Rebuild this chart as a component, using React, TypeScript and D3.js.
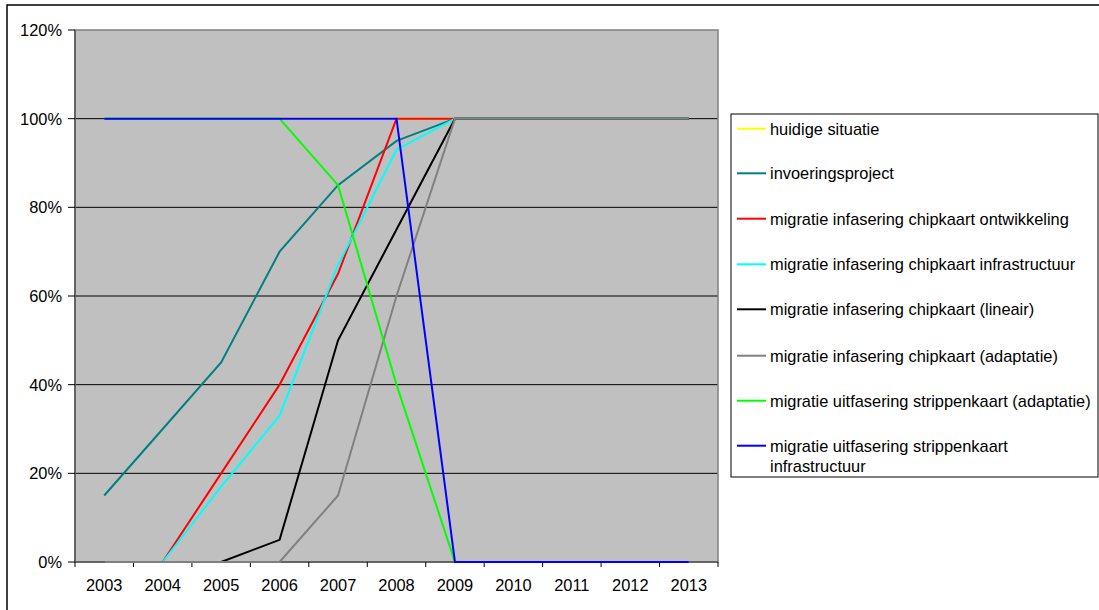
import React from "react";
import * as d3 from "d3";

const years = ["2003","2004","2005","2006","2007","2008","2009","2010","2011","2012","2013"];
const yTicks = [0, 20, 40, 60, 80, 100, 120];

const huidige = [100,100,100,100,100,100,100,100,100,100,100];
const invoering = [15,30,45,70,85,95,100,100,100,100,100];
const chipOntw = [null,0,20,40,65,100,100,100,100,100,100];
const chipInfra = [null,0,17,33,67,93,100,100,100,100,100];
const chipLineair = [0,0,0,5,50,75,100,100,100,100,100];
const chipAdapt = [0,0,0,0,15,60,100,100,100,100,100];
const stripAdapt = [100,100,100,100,85,40,0,0,0,0,0];
const stripInfra = [100,100,100,100,100,100,0,0,0,0,0];

const seriesNames = [
  "huidige situatie",
  "invoeringsproject",
  "migratie infasering chipkaart ontwikkeling",
  "migratie infasering chipkaart infrastructuur",
  "migratie infasering chipkaart (lineair)",
  "migratie infasering chipkaart (adaptatie)",
  "migratie uitfasering strippenkaart (adaptatie)",
  "migratie uitfasering strippenkaart|infrastructuur",
];
const seriesValues = [huidige, invoering, chipOntw, chipInfra, chipLineair, chipAdapt, stripAdapt, stripInfra];
const seriesColors = ["#FFFF00","#008080","#FF0000","#00FFFF","#000000","#808080","#00FF00","#0000FF"];

const FONT = "'Liberation Sans', Arial, sans-serif";
const FS = 16.4;

export default function App() {
  const W = 1099, H = 610;
  const left = 75, right = 718, top = 30, bottom = 562;
  const x = d3.scaleBand<string>().domain(years).range([left, right]).paddingInner(0).paddingOuter(0);
  const y = d3.scaleLinear().domain([0, 120]).range([bottom, top]);
  const line = d3.line<number | null>()
    .defined((d) => d !== null)
    .x((_, i) => (x(years[i]) as number) + x.bandwidth() / 2)
    .y((d) => y(d as number));

  const legX = 731, legY = 114, legW = 367, legH = 363;
  const legRowY = [128.7, 173.3, 218.7, 264.3, 309.3, 355.7, 400.7, 445.7];

  return (
    <svg width={W} height={H} style={{ position: "absolute", left: 0, top: 0, fontFamily: FONT }}>
      <rect x={0} y={0} width={W} height={H} fill="#fff" />
      <rect x={7} y={5} width={W + 10} height={H + 10} fill="none" stroke="#000" strokeWidth={1.5} />
      <rect x={left} y={top} width={right - left} height={bottom - top} fill="#C0C0C0" />
      {yTicks.filter((t) => t > 0 && t < 120).map((t) => (
        <line key={t} x1={left} x2={right} y1={y(t)} y2={y(t)} stroke="#000" strokeWidth={1} />
      ))}
      <rect x={left} y={top} width={right - left} height={bottom - top} fill="none" stroke="#808080" strokeWidth={1.5} />
      <line x1={left} x2={left} y1={top} y2={bottom} stroke="#555" strokeWidth={1.5} />
      <line x1={left} x2={right} y1={bottom} y2={bottom} stroke="#555" strokeWidth={1.5} />
      {yTicks.map((t) => (
        <g key={t}>
          <line x1={left - 7} x2={left} y1={y(t)} y2={y(t)} stroke="#000" strokeWidth={1} />
          <text x={62} y={y(t)} dy="0.36em" textAnchor="end" fontSize={FS} fill="#000">{t + "%"}</text>
        </g>
      ))}
      {years.map((yr, i) => (
        <g key={yr}>
          <line x1={x(yr) as number} x2={x(yr) as number} y1={bottom} y2={bottom + 5} stroke="#000" strokeWidth={1} />
          <text x={(x(yr) as number) + x.bandwidth() / 2} y={591} textAnchor="middle" fontSize={FS} fill="#000">{yr}</text>
        </g>
      ))}
      <line x1={right} x2={right} y1={bottom} y2={bottom + 5} stroke="#000" strokeWidth={1} />
      {seriesValues.map((vals, i) => (
        <path key={i} d={line(vals) || ""} fill="none" stroke={seriesColors[i]} strokeWidth={2} strokeLinejoin="miter" />
      ))}
      <rect x={legX} y={legY} width={legW} height={legH} fill="#fff" stroke="#000" strokeWidth={1} />
      {seriesNames.map((name, i) => {
        const parts = name.split("|");
        return (
          <g key={i}>
            <line x1={737} x2={766} y1={legRowY[i]} y2={legRowY[i]} stroke={seriesColors[i]} strokeWidth={2} />
            {parts.map((p, j) => (
              <text key={j} x={770} y={legRowY[i] + j * 20} dy="0.36em" fontSize={FS} fill="#000">{p}</text>
            ))}
          </g>
        );
      })}
    </svg>
  );
}
